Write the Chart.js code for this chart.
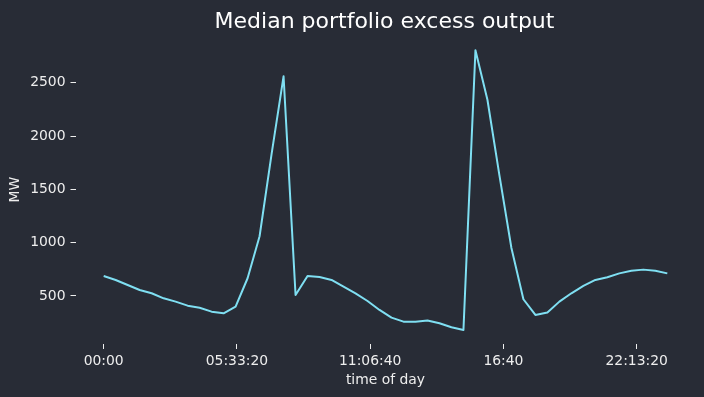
<!DOCTYPE html>
<html>
<head>
<meta charset="utf-8">
<script src="https://cdn.jsdelivr.net/npm/chart.js@4.4.1/dist/chart.umd.min.js"></script>
<style>
  html, body { margin: 0; padding: 0; background: #282c36; }
  #wrap { width: 704px; height: 397px; }
</style>
</head>
<body>
<div id="wrap"><canvas id="chart"></canvas></div>
<script>
// --- Data ---
const times = [
  '00:00', '00:30', '01:00', '01:30', '02:00', '02:30', '03:00', '03:30',
  '04:00', '04:30', '05:00', '05:30', '06:00', '06:30', '07:00', '07:30',
  '08:00', '08:30', '09:00', '09:30', '10:00', '10:30', '11:00', '11:30',
  '12:00', '12:30', '13:00', '13:30', '14:00', '14:30', '15:00', '15:30',
  '16:00', '16:30', '17:00', '17:30', '18:00', '18:30', '19:00', '19:30',
  '20:00', '20:30', '21:00', '21:30', '22:00', '22:30', '23:00', '23:30'
];
const excessMW = [
  687, 650, 603, 556, 525, 478, 447, 409,
  390, 353, 337, 400, 666, 1060, 1830, 2560,
  509, 687, 678, 650, 587, 525, 453, 369,
  297, 259, 259, 269, 244, 207, 181, 2805,
  2340, 1630, 950, 469, 322, 344, 447, 525,
  594, 650, 675, 712, 737, 747, 737, 712
];
// tick positions in seconds since midnight
const xTicks = [0, 20000, 40000, 60000, 80000];
const yTicks = [500, 1000, 1500, 2000, 2500];
const xRange = [-4230, 88830];
const yRange = [49.5, 2943.5];

const BG = '#282c36';
const TXT = '#eeeeee';
const LINE = '#7fdff2';
const FONT = "'DejaVu Sans', sans-serif";

function toSeconds(t) {
  const [h, m] = t.split(':').map(Number);
  return h * 3600 + m * 60;
}

function fmtTime(sec) {
  const h = Math.floor(sec / 3600);
  const m = Math.floor((sec % 3600) / 60);
  const s = Math.round(sec % 60);
  const pad = n => String(n).padStart(2, '0');
  let out = pad(h) + ':' + pad(m);
  if (s) out += ':' + pad(s);
  return out;
}

const points = times.map((t, i) => ({ x: toSeconds(t), y: excessMW[i] }));

const bgPlugin = {
  id: 'bg',
  beforeDraw(chart) {
    const ctx = chart.ctx;
    ctx.save();
    ctx.fillStyle = BG;
    ctx.fillRect(0, 0, chart.width, chart.height);
    ctx.restore();
  }
};

// title centred over the plot area like matplotlib does
const titlePlugin = {
  id: 'plotTitle',
  afterDraw(chart) {
    const { ctx, chartArea } = chart;
    ctx.save();
    ctx.font = '22px ' + FONT;
    ctx.fillStyle = '#ffffff';
    ctx.textAlign = 'center';
    ctx.textBaseline = 'alphabetic';
    ctx.fillText('Median portfolio excess output', (chartArea.left + chartArea.right) / 2 - 1, 27.5);
    ctx.restore();
  }
};

new Chart(document.getElementById('chart'), {
  type: 'line',
  data: {
    datasets: [{
      data: points,
      borderColor: LINE,
      borderWidth: 2,
      borderJoinStyle: 'round',
      pointRadius: 0,
      tension: 0,
      fill: false
    }]
  },
  options: {
    responsive: true,
    maintainAspectRatio: false,
    animation: false,
    layout: { padding: { top: 35.4, right: 8.5, left: 0, bottom: 0 } },
    plugins: {
      legend: { display: false },
      tooltip: { enabled: false },
      title: { display: false }
    },
    scales: {
      x: {
        type: 'linear',
        min: xRange[0],
        max: xRange[1],
        afterBuildTicks: axis => { axis.ticks = xTicks.map(v => ({ value: v })); },
        afterFit: axis => { axis.height = 53; },
        grid: { drawOnChartArea: false, drawTicks: true, tickLength: 5, color: TXT, lineWidth: 1 },
        border: { display: false },
        ticks: {
          color: TXT,
          font: { family: FONT, size: 13.9 },
          padding: 4,
          maxRotation: 0,
          autoSkip: false,
          callback: v => fmtTime(v)
        },
        title: {
          display: true,
          text: 'time of day',
          color: TXT,
          font: { family: FONT, size: 13.9 },
          padding: { top: 0, bottom: 8.5 }
        }
      },
      y: {
        min: yRange[0],
        max: yRange[1],
        afterBuildTicks: axis => { axis.ticks = yTicks.map(v => ({ value: v })); },
        afterFit: axis => { axis.width = 75.5; },
        grid: { drawOnChartArea: false, drawTicks: true, tickLength: 5, color: TXT, lineWidth: 1 },
        border: { display: false },
        ticks: {
          color: TXT,
          font: { family: FONT, size: 13.9 },
          padding: 5,
          autoSkip: false,
          callback: v => String(v)
        },
        title: {
          display: true,
          text: 'MW',
          color: TXT,
          font: { family: FONT, size: 13.9 },
          padding: { top: 6.7, bottom: 0 }
        }
      }
    }
  },
  plugins: [bgPlugin, titlePlugin]
});
</script>
</body>
</html>
